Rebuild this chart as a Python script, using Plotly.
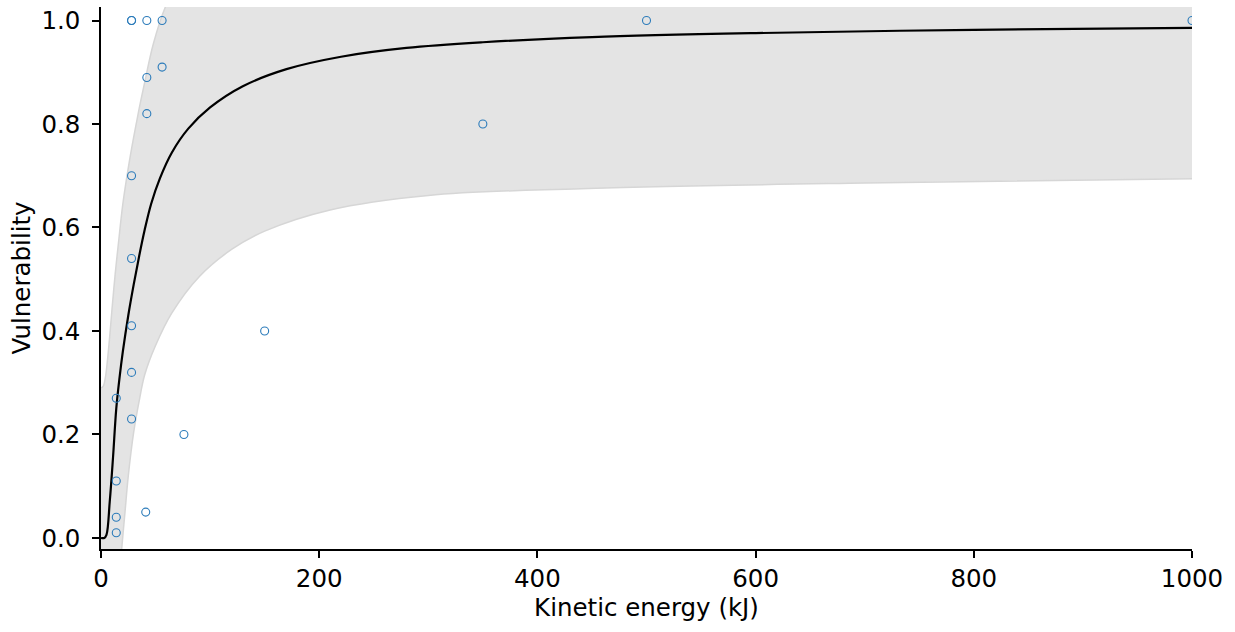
import plotly.graph_objects as go

# Observed points
obs_energy = [14, 14, 14, 14, 28, 28, 28, 28, 28, 28, 28, 41, 42, 42, 42, 56, 56, 76, 150, 350, 500, 1000]
obs_vuln = [0.01, 0.04, 0.11, 0.27, 0.23, 0.32, 0.41, 0.54, 0.70, 1.00, 1.00, 0.05, 0.82, 0.89, 1.00, 0.91, 1.00, 0.20, 0.40, 0.80, 1.00, 1.00]

# Fitted curve
curve_energy = [0, 3, 5, 8, 11, 14, 17, 20, 25, 30, 35, 40, 46, 54, 65, 80, 100, 130, 170, 220, 280, 350,
                450, 600, 800, 1000]
curve_vuln = [0, 0, 0.006, 0.07, 0.155, 0.25, 0.31, 0.36, 0.43, 0.49, 0.545, 0.595, 0.646, 0.695, 0.745,
              0.791, 0.832, 0.873, 0.906, 0.93, 0.947, 0.958, 0.968, 0.9757, 0.982, 0.9857]

# Uncertainty band
lower_energy = [0, 6, 12, 16, 19, 22, 25, 30, 35, 40, 50, 65, 90, 120, 150, 210, 300, 440, 700, 1000]
lower_vuln = [-0.6, -0.4, -0.22, -0.1, -0.02, 0.05, 0.12, 0.205, 0.265, 0.315, 0.372, 0.435, 0.505, 0.558, 0.593,
              0.634, 0.662, 0.675, 0.686, 0.694]
upper_energy = [0, 2, 4, 6, 8, 10, 13, 16, 20, 25, 30, 35, 40, 48, 59, 70, 90, 130, 200, 400, 700, 1000]
upper_vuln = [0.29, 0.293, 0.31, 0.345, 0.39, 0.44, 0.51, 0.57, 0.645, 0.715, 0.775, 0.83, 0.88, 0.955, 1.026, 1.07,
              1.14, 1.24, 1.34, 1.44, 1.5, 1.5]

x_ticks = [0, 200, 400, 600, 800, 1000]
y_ticks = [0.0, 0.2, 0.4, 0.6, 0.8, 1.0]

FONT = "DejaVu Sans"
FS = 24.5
fig = go.Figure()

fig.add_trace(go.Scatter(x=lower_energy, y=lower_vuln, mode="lines",
                         line=dict(color="#d6d6d6", width=1.5, shape="spline", smoothing=1), hoverinfo="skip"))
fig.add_trace(go.Scatter(x=upper_energy, y=upper_vuln, mode="lines", fill="tonexty", fillcolor="#e4e4e4",
                         line=dict(color="#d6d6d6", width=1.5, shape="spline", smoothing=1), hoverinfo="skip"))
fig.add_trace(go.Scatter(x=curve_energy, y=curve_vuln, mode="lines",
                         line=dict(color="black", width=2.2, shape="spline", smoothing=1)))
fig.add_trace(go.Scatter(x=obs_energy, y=obs_vuln, mode="markers",
                         marker=dict(symbol="circle-open", size=8, color="#2b7bba", line=dict(width=1.1))))

fig.update_layout(
    width=1235, height=632,
    margin=dict(l=101, r=43, t=7, b=83),
    paper_bgcolor="white", plot_bgcolor="white",
    showlegend=False,
    font=dict(family=FONT, size=FS, color="black"),
)
fig.update_xaxes(range=[0, 1000], tickvals=x_ticks, ticktext=[str(v) for v in x_ticks],
                 showgrid=False, zeroline=False, showline=True, linecolor="black", linewidth=1.5,
                 ticks="outside", ticklen=7, tickwidth=1.5, tickcolor="black",
                 title=dict(text="Kinetic energy (kJ)", standoff=5, font=dict(size=FS)))
fig.update_yaxes(range=[-0.0213, 1.0261], tickvals=y_ticks, ticktext=[f"{v:.1f}" for v in y_ticks],
                 showgrid=False, zeroline=False, showline=True, linecolor="black", linewidth=1.5,
                 ticks="outside", ticklen=7, tickwidth=1.5, tickcolor="black", ticklabelstandoff=7,
                 title=dict(text="Vulnerability", standoff=4, font=dict(size=FS)))

fig.write_html("out.html")
